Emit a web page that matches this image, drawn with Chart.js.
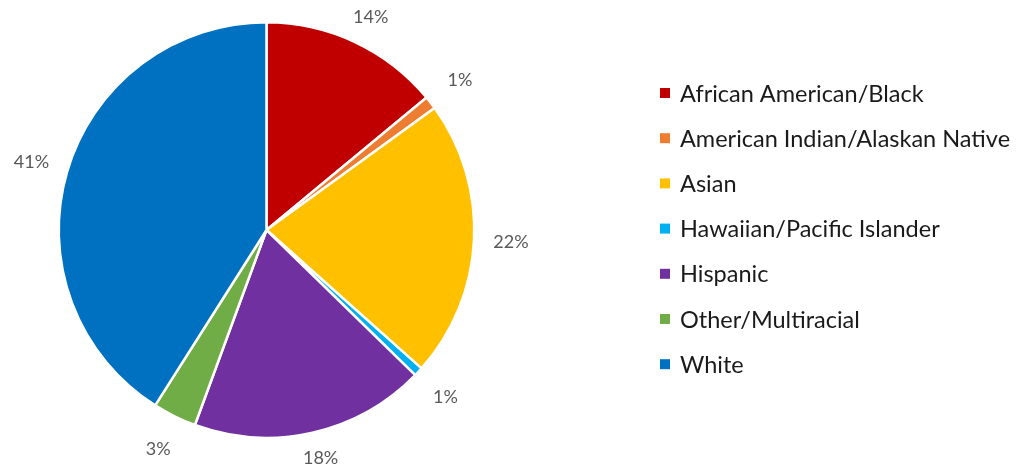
<!DOCTYPE html>
<html>
<head>
<meta charset="utf-8">
<script src="https://cdn.jsdelivr.net/npm/chart.js@4.4.1/dist/chart.umd.min.js"></script>
<style>
    html, body { margin: 0; padding: 0; background: #fff; }
    #wrap { width: 1017px; height: 471px; }
</style>
</head>
<body>
<div id="wrap"><canvas id="pieChart" width="1017" height="471"></canvas></div>
<script>
const categories = [
    'African American/Black',
    'American Indian/Alaskan Native',
    'Asian',
    'Hawaiian/Pacific Islander',
    'Hispanic',
    'Other/Multiracial',
    'White'
];
const shares = [14.0, 1.0, 21.6, 0.7, 18.3, 3.4, 41.0];
const colors = ['#C00000', '#ED7D31', '#FFC000', '#00B0F0', '#7030A0', '#70AD47', '#0070C0'];

const FONT = 'Lato, "Open Sans", sans-serif';

// percent labels outside each slice
const outsideLabels = {
    id: 'outsideLabels',
    afterDatasetsDraw(chart) {
        const ctx = chart.ctx;
        const arcs = chart.getDatasetMeta(0).data;
        ctx.save();
        ctx.font = '18px ' + FONT;
        ctx.fillStyle = '#595959';
        ctx.textAlign = 'center';
        ctx.textBaseline = 'middle';
        arcs.forEach((arc, i) => {
            const mid = (arc.startAngle + arc.endAngle) / 2;
            const r = arc.outerRadius + 37;
            let x = arc.x + Math.cos(mid) * r;
            let y = arc.y + Math.sin(mid) * r;
            y = Math.min(Math.max(y, 17), chart.height - 13);
            ctx.fillText(Math.round(shares[i]) + '%', x, y);
        });
        ctx.restore();
    }
};

// legend on the right side
const sideLegend = {
    id: 'sideLegend',
    afterDraw(chart) {
        const ctx = chart.ctx;
        ctx.save();
        ctx.font = '23.5px ' + FONT;
        ctx.textAlign = 'left';
        ctx.textBaseline = 'middle';
        categories.forEach((name, i) => {
            const y = 93 + i * 45.2;
            ctx.fillStyle = colors[i];
            ctx.fillRect(660, y - 5, 10, 10);
            ctx.fillStyle = '#1a1a1a';
            ctx.fillText(name, 680, y + 1);
        });
        ctx.restore();
    }
};

new Chart(document.getElementById('pieChart'), {
    type: 'pie',
    data: {
        labels: categories,
        datasets: [{
            data: shares,
            backgroundColor: colors,
            borderColor: '#ffffff',
            borderWidth: 2.5
        }]
    },
    options: {
        responsive: false,
        animation: false,
        layout: {
            padding: {left: 57, right: 541, top: 21, bottom: 32}
        },
        plugins: {
            legend: {display: false},
            tooltip: {enabled: false}
        }
    },
    plugins: [outsideLabels, sideLegend]
});
</script>
</body>
</html>
